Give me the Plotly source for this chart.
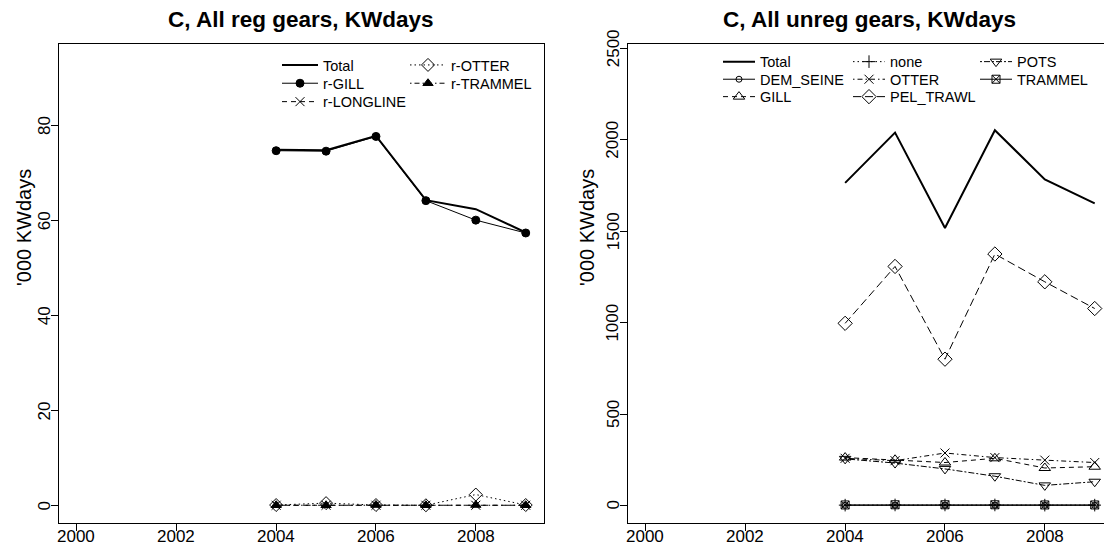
import plotly.graph_objects as go

# ---- data ('000 KWdays) ----
years = [2004, 2005, 2006, 2007, 2008, 2009]

# regulated gears
reg_total = [74.8, 74.7, 77.7, 64.2, 62.3, 57.4]
reg_gill = [74.6, 74.5, 77.6, 64.1, 60.0, 57.3]
reg_longline = [0.05, 0.05, 0.05, 0.05, 0.05, 0.05]
reg_otter = [0.1, 0.5, 0.1, 0.05, 2.3, 0.1]
reg_trammel = [0.05, 0.05, 0.1, 0.05, 0.1, 0.05]

# unregulated gears
unreg_total = [1764, 2039, 1517, 2052, 1783, 1652]
unreg_dem_seine = [1, 2, 2, 2, 1, 1]
unreg_gill = [262, 250, 235, 258, 205, 212]
unreg_none = [2, 3, 3, 3, 2, 2]
unreg_otter = [258, 245, 287, 262, 248, 235]
unreg_pel_trawl = [996, 1307, 800, 1375, 1223, 1077]
unreg_pots = [255, 232, 200, 160, 110, 130]
unreg_trammel = [3, 4, 4, 4, 3, 3]

reg_title = "C, All reg gears, KWdays"
unreg_title = "C, All unreg gears, KWdays"
y_label = "'000 KWdays"
x_ticks = [2000, 2002, 2004, 2006, 2008]
reg_y_ticks = [0, 20, 40, 60, 80]
unreg_y_ticks = [0, 500, 1000, 1500, 2000, 2500]

# ---- page geometry (pixels) ----
W, H = 1104, 555
FONT = "Liberation Sans, Arial, Helvetica, sans-serif"


def px_x(p):
    return p / W


def px_y(p):
    return 1 - p / H


# R-style line types
LTY = {
    1: "solid",
    2: "5px,4px",
    3: "1.5px,3px",
    4: "1.5px,3px,5px,3px",
    5: "8px,4px",
    6: "2px,2px,6px,2px",
}

fig = go.Figure()


def add_series(name, y, xa, ya, legend, lty, lw=1, symbol=None, size=9):
    mode = "lines+markers" if symbol else "lines"
    marker = dict(symbol=symbol, size=size, color="black",
                  line=dict(color="black", width=1)) if symbol else None
    fig.add_trace(go.Scatter(
        x=years, y=y, name=name, mode=mode, xaxis=xa, yaxis=ya,
        line=dict(color="black", width=lw, dash=LTY[lty]),
        marker=marker, legend=legend, showlegend=True,
        hoverinfo="x+y+name",
    ))


# left panel: regulated gears
reg_series = [
    ("Total", reg_total, 1, 2, None, 9),
    ("r-GILL", reg_gill, 1, 1, "circle", 8),
    ("r-LONGLINE", reg_longline, 2, 1, "x-thin-open", 9),
    ("r-OTTER", reg_otter, 3, 1, "diamond-open", 10),
    ("r-TRAMMEL", reg_trammel, 4, 1, "triangle-up", 9),
]
# right panel: unregulated gears
unreg_series = [
    ("Total", unreg_total, 1, 2, None, 9),
    ("DEM_SEINE", unreg_dem_seine, 1, 1, "circle-open", 6),
    ("GILL", unreg_gill, 2, 1, "triangle-up-open", 10),
    ("none", unreg_none, 3, 1, "cross-thin-open", 9),
    ("OTTER", unreg_otter, 4, 1, "x-thin-open", 9),
    ("PEL_TRAWL", unreg_pel_trawl, 5, 1, "diamond-open", 11),
    ("POTS", unreg_pots, 6, 1, "triangle-down-open", 10),
    ("TRAMMEL", unreg_trammel, 1, 1, "square-x-open", 8),
]

# legend slots: (column left px, row centre px)
reg_slots = [(277, 65), (277, 83.3), (277, 101.7), (405, 65), (405, 83.3)]
unreg_slots = [(718, 61.7), (718, 79.3), (718, 96.7),
               (848, 61.7), (848, 79.3), (848, 96.7),
               (975, 61.7), (975, 79.3)]

legend_layouts = {}
k = 0
for (name, y, lty, lw, sym, size), (lx, ly) in zip(reg_series, reg_slots):
    k += 1
    key = "legend" if k == 1 else f"legend{k}"
    add_series(name, y, "x", "y", key, lty, lw, sym, size)
    legend_layouts[key] = dict(x=px_x(lx), y=px_y(ly), xanchor="left", yanchor="middle",
                               bgcolor="rgba(0,0,0,0)", borderwidth=0, itemwidth=36,
                               font=dict(family=FONT, size=14.5, color="black"))
for (name, y, lty, lw, sym, size), (lx, ly) in zip(unreg_series, unreg_slots):
    k += 1
    key = f"legend{k}"
    add_series(name, y, "x2", "y2", key, lty, lw, sym, size)
    legend_layouts[key] = dict(x=px_x(lx), y=px_y(ly), xanchor="left", yanchor="middle",
                               bgcolor="rgba(0,0,0,0)", borderwidth=0, itemwidth=32,
                               font=dict(family=FONT, size=14.5, color="black"))

axis_common = dict(
    showgrid=False, zeroline=False, showline=True, linecolor="black", linewidth=1,
    ticks="outside", ticklen=7, tickwidth=1, tickcolor="black", showticklabels=False,
)

Y_TOP, Y_BOT = 43.5, 523
y_dom = [px_y(Y_BOT), px_y(Y_TOP)]

fig.update_layout(
    width=W, height=H, margin=dict(l=0, r=0, t=0, b=0, autoexpand=False),
    paper_bgcolor="white", plot_bgcolor="white",
    font=dict(family=FONT, color="black"),
    xaxis=dict(domain=[px_x(58.5), px_x(543.7)], range=[1999.64, 2009.36],
               tickvals=x_ticks, mirror=True, anchor="y", **axis_common),
    yaxis=dict(domain=y_dom, range=[-3.68, 97.14], tickvals=reg_y_ticks,
               mirror=True, anchor="x", **axis_common),
    xaxis2=dict(domain=[px_x(627.5), 1.0], range=[1999.64, 2009.186],
                tickvals=x_ticks, mirror=True, anchor="y2", **axis_common),
    yaxis2=dict(domain=y_dom, range=[-95.7, 2526], tickvals=unreg_y_ticks,
                mirror=False, anchor="x2", **axis_common),
    **legend_layouts,
)

TICK_FONT = dict(family=FONT, size=17, color="black")

# tick labels, placed on the axes' own scales
for xref in ["x", "x2"]:
    for t in x_ticks:
        fig.add_annotation(text=str(t), x=t, xref=xref, y=px_y(536), yref="paper",
                           xanchor="center", yanchor="middle", showarrow=False, font=TICK_FONT)
for yref, ticks, cx in [("y", reg_y_ticks, 44), ("y2", unreg_y_ticks, 613)]:
    for t in ticks:
        fig.add_annotation(text=str(t), y=t, yref=yref, x=px_x(cx), xref="paper",
                           xanchor="center", yanchor="middle", showarrow=False,
                           textangle=-90, font=TICK_FONT)

# panel titles and y-axis labels
for text, cx in [(reg_title, 301), (unreg_title, 870)]:
    fig.add_annotation(text=f"<b>{text}</b>", x=px_x(cx), y=px_y(20), xref="paper", yref="paper",
                       xanchor="center", yanchor="middle", showarrow=False,
                       font=dict(family=FONT, size=22.5, color="black"))
for cx in [24, 587]:
    fig.add_annotation(text=y_label, x=px_x(cx), y=px_y(228), xref="paper", yref="paper",
                       xanchor="center", yanchor="middle", showarrow=False, textangle=-90,
                       font=dict(family=FONT, size=20, color="black"))

fig.write_html("out.html")
